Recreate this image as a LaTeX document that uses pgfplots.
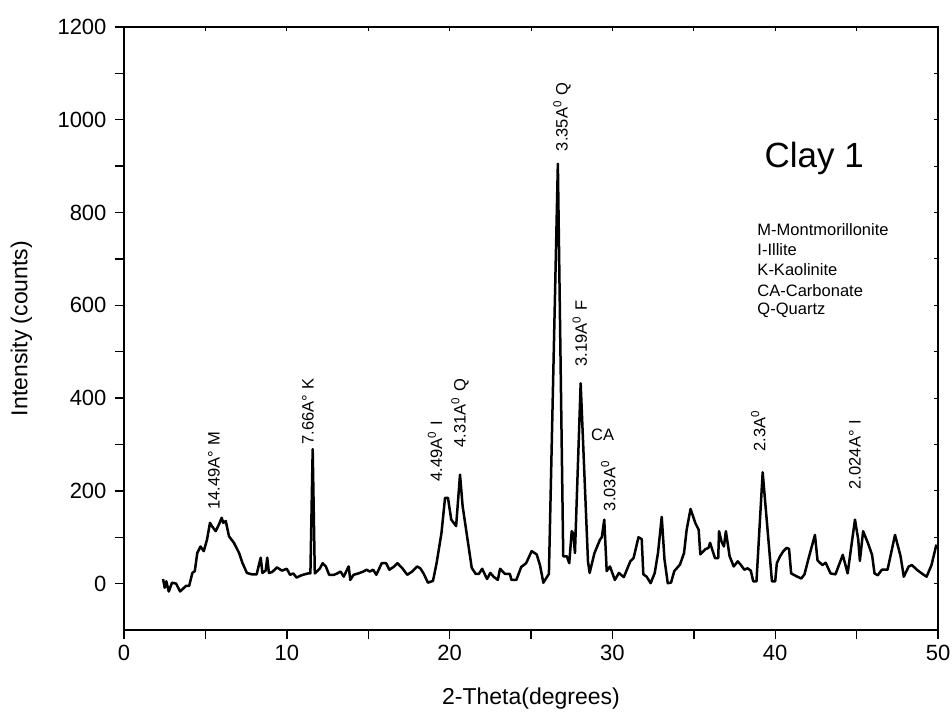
\documentclass[border=0pt]{standalone}
\usepackage{pgfplots}
\pgfplotsset{compat=1.18}
\usepackage{fontspec}
\setmainfont{Liberation Sans}

\pgfplotstableread{
x y
2.4 10
2.5 -9
2.6 5
2.75 -17
2.95 2
3.2 0
3.45 -17
3.8 -5
4.0 -5
4.2 23
4.35 27
4.5 66
4.7 80
4.9 70
5.1 95
5.28 131
5.4 124
5.63 113
5.84 128
6.0 142
6.1 131
6.25 135
6.45 102
6.75 88
7.07 66
7.27 45
7.55 23
7.85 20
8.15 20
8.25 35
8.4 56
8.5 23
8.7 28
8.8 56
8.9 23
9.1 25
9.4 35
9.7 28
10.0 32
10.2 19
10.4 22
10.6 13
10.9 18
11.3 22
11.45 22
11.59 290
11.72 22
12.04 33
12.2 44
12.4 37
12.6 19
12.9 19
13.1 22
13.3 26
13.5 15
13.7 30
13.8 37
13.9 8
14.1 19
14.4 22
14.7 26
14.9 30
15.1 26
15.3 30
15.5 19
15.83 44
16.1 44
16.3 30
16.6 37
16.8 44
17.1 33
17.4 19
17.7 26
18.0 37
18.2 33
18.4 22
18.67 2
18.98 6
19.2 44
19.5 109
19.72 185
19.9 185
20.1 138
20.4 124
20.64 235
20.8 167
21.36 34
21.6 21
21.8 21
22.0 32
22.3 10
22.5 23
22.7 15
22.96 8
23.1 32
23.4 21
23.7 21
23.8 8
24.1 8
24.4 36
24.7 44
25.04 70
25.35 63
25.55 40
25.76 2
26.1 21
26.65 905
26.98 59
27.2 59
27.35 44
27.5 113
27.6 108
27.7 66
28.05 432
28.5 48
28.6 23
28.9 66
29.24 95
29.35 100
29.5 138
29.65 27
29.85 37
30.15 8
30.4 23
30.7 14
31.1 48
31.3 55
31.6 100
31.8 96
31.9 20
32.1 15
32.35 1
32.6 23
32.8 66
33.03 144
33.2 52
33.4 1
33.6 2
33.8 27
34.15 41
34.4 66
34.56 116
34.8 161
35.1 130
35.3 116
35.4 63
35.7 74
35.9 77
36.0 88
36.3 55
36.5 55
36.55 113
36.7 91
36.85 80
36.97 113
37.2 59
37.45 37
37.7 48
37.9 40
38.1 30
38.3 33
38.5 28
38.65 5
38.85 5
39.23 240
39.8 5
40.0 5
40.1 44
40.3 59
40.5 70
40.7 77
40.85 75
40.98 22
41.3 16
41.6 11
41.8 20
42.0 48
42.44 105
42.6 50
42.9 40
43.1 45
43.4 22
43.7 20
44.15 62
44.45 22
44.7 87
44.9 138
45.1 95
45.2 49
45.4 113
45.7 87
45.95 62
46.1 22
46.3 18
46.55 30
46.9 30
47.36 105
47.7 59
47.9 15
48.2 37
48.4 40
48.7 30
49.0 22
49.3 15
49.6 40
49.9 84
}\xrd

\begin{document}
\begin{tikzpicture}
\begin{axis}[
  width=814pt, height=603pt, scale only axis,
  xmin=0, xmax=50, ymin=-100, ymax=1200,
  xtick={0,10,...,50}, ytick={0,200,...,1200},
  minor x tick num=1, minor y tick num=1,
  xtick pos=left, ytick pos=left,
  tick align=outside,
  major tick length=9pt, minor tick length=9pt,
  tick style={line width=1.4pt, black},
  axis line style={line width=1.6pt},
  /pgf/number format/assume math mode=true,
  /pgf/number format/1000 sep={},
  ticklabel style={font=\fontsize{22}{26}\selectfont},
  yticklabel style={xshift=-5pt},
  xticklabel style={yshift=-3pt},
  xlabel={2-Theta(degrees)}, ylabel={Intensity (counts)},
  label style={font=\fontsize{23}{27}\selectfont},
  xlabel style={at={(axis description cs:0.5,-0.113)},anchor=center},
  ylabel style={at={(axis description cs:-0.126,0.5)},rotate=0,anchor=center},
  clip=false,
]
\addplot[black, line width=2.5pt, line join=round] table[x=x,y=y] {\xrd};

\tikzset{lab/.style={rotate=90, anchor=west, inner sep=0pt, font=\fontsize{16.5}{18}\selectfont}}
\node[lab] at (axis cs:5.53,159) {14.49A°\,\,M};
\node[lab] at (axis cs:11.3,300) {7.66A°\,\,K};
\node[lab] at (axis cs:19.1,220) {4.49A\textsuperscript{0}\,\,I};
\node[lab] at (axis cs:20.64,293) {4.31A\textsuperscript{0}\,\,Q};
\node[lab] at (axis cs:26.9,932) {3.35A\textsuperscript{0}\,\,Q};
\node[lab] at (axis cs:28.0,468) {3.19A\textsuperscript{0}\,\,F};
\node[lab] at (axis cs:29.75,156) {3.03A\textsuperscript{0}};
\node[lab] at (axis cs:38.96,285) {2.3A\textsuperscript{0}};
\node[lab] at (axis cs:44.9,203) {2.024A°\,\,I};
\node[inner sep=0pt, font=\fontsize{16.5}{18}\selectfont] at (axis cs:29.4,321) {CA};
\node[inner sep=0pt, font=\fontsize{35}{40}\selectfont] at (axis cs:42.4,916) {Clay 1};
\tikzset{leg/.style={anchor=west, inner sep=0pt, font=\fontsize{16.5}{18}\selectfont}}
\node[leg] at (axis cs:38.9,763) {M-Montmorillonite};
\node[leg] at (axis cs:38.9,720) {I-Illite};
\node[leg] at (axis cs:38.9,677) {K-Kaolinite};
\node[leg] at (axis cs:38.9,632) {CA-Carbonate};
\node[leg] at (axis cs:38.9,589) {Q-Quartz};
\end{axis}
\begin{axis}[
  width=814pt, height=603pt, scale only axis,
  xmin=0, xmax=50, ymin=-100, ymax=1200,
  xtick={0,5,...,50}, ytick={-100,0,...,1200},
  xtick pos=right, ytick pos=right,
  tick align=inside,
  major tick length=4pt,
  xticklabels={}, yticklabels={},
  tick style={line width=1pt, black},
  axis line style={line width=1.6pt},
]
\end{axis}
\pgfresetboundingbox
\path[use as bounding box] ([xshift=-124pt,yshift=-88pt]current axis.south west) rectangle ([xshift=14pt,yshift=27pt]current axis.north east);
\end{tikzpicture}
\end{document}
